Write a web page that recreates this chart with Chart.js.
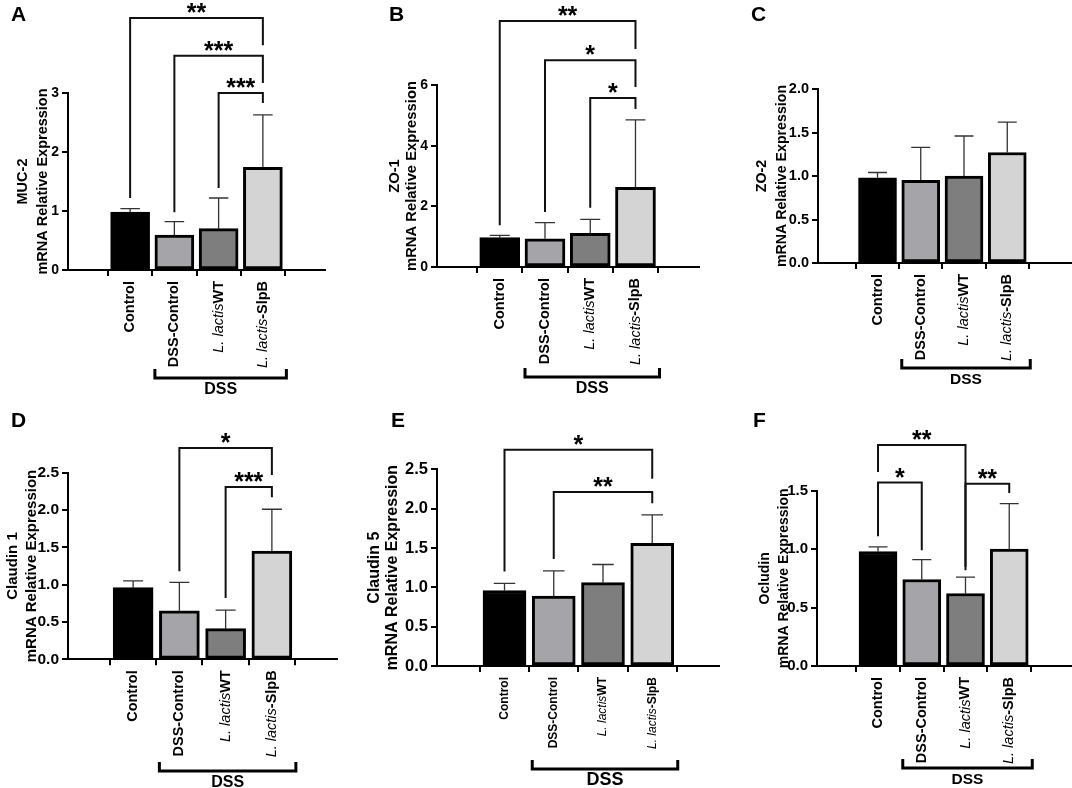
<!DOCTYPE html>
<html>
<head>
<meta charset="utf-8">
<script src="https://cdn.jsdelivr.net/npm/chart.js@4.4.1/dist/chart.umd.min.js"></script>
<style>
  html, body { margin: 0; padding: 0; background: #fff; }
  #wrap { position: relative; width: 1072px; height: 788px; overflow: hidden; }
  #wrap canvas { position: absolute; left: 0; top: 0; }
</style>
</head>
<body>
<div id="wrap">
  <canvas id="pA" width="1072" height="788"></canvas>
  <canvas id="pB" width="1072" height="788"></canvas>
  <canvas id="pC" width="1072" height="788"></canvas>
  <canvas id="pD" width="1072" height="788"></canvas>
  <canvas id="pE" width="1072" height="788"></canvas>
  <canvas id="pF" width="1072" height="788"></canvas>
</div>
<script>
const FONT = "'Liberation Sans', Arial, sans-serif";

const groups = ['Control', 'DSS-Control', 'L. lactisWT', 'L. lactis-SlpB'];
const italicPrefix = 'L. lactis';
const barColors = ['#000000', '#a4a4a9', '#7e7e7e', '#d4d4d4'];

// significance rows: [from, to, bracket height, left leg end, right leg end, stars]
// A - MUC-2
const muc2Mean = [0.98, 0.59, 0.70, 1.74];
const muc2Sd = [0.06, 0.23, 0.52, 0.89];
const muc2Ticks = ['0', '1', '2', '3'];
const muc2Sig = [[0, 3, 4.27, 1.22, 3.81, '**'], [1, 3, 3.63, 0.98, 3.17, '***'], [2, 3, 3.0, 1.39, 2.83, '***']];

// B - ZO-1
const zo1Mean = [0.97, 0.93, 1.11, 2.63];
const zo1Sd = [0.07, 0.53, 0.46, 2.22];
const zo1Ticks = ['0', '2', '4', '6'];
const zo1Sig = [[0, 3, 8.11, 1.38, 7.19, '**'], [1, 3, 6.82, 1.81, 5.93, '*'], [2, 3, 5.57, 1.95, 5.21, '*']];

// C - ZO-2
const zo2Mean = [0.98, 0.95, 1.00, 1.27];
const zo2Sd = [0.06, 0.38, 0.46, 0.35];
const zo2Ticks = ['0.0', '0.5', '1.0', '1.5', '2.0'];
const zo2Sig = [];

// D - Claudin 1
const cld1Mean = [0.96, 0.65, 0.41, 1.45];
const cld1Sd = [0.09, 0.38, 0.25, 0.56];
const cld1Ticks = ['0.0', '0.5', '1.0', '1.5', '2.0', '2.5'];
const cld1Sig = [[1, 3, 2.83, 1.18, 2.47, '*'], [2, 3, 2.31, 0.82, 2.17, '***']];

// E - Claudin 5
const cld5Mean = [0.96, 0.89, 1.06, 1.56];
const cld5Sd = [0.09, 0.32, 0.23, 0.36];
const cld5Ticks = ['0.0', '0.5', '1.0', '1.5', '2.0', '2.5'];
const cld5Sig = [[0, 3, 2.75, 1.20, 2.38, '*'], [1, 3, 2.21, 1.36, 2.07, '**']];

// F - Ocludin
const oclMean = [0.98, 0.74, 0.62, 1.00];
const oclSd = [0.04, 0.17, 0.14, 0.39];
const oclTicks = ['0.0', '0.5', '1.0', '1.5'];
const oclSig = [[0, 2, 1.89, 1.66, 0.85, '**'], [0, 1, 1.57, 1.11, 0.99, '*'], [2, 3, 1.56, 0.82, 1.48, '**']];

const Y_W = 60;
const X_H = 6;

const panels = [
  { id: 'pA', letter: 'A', letterPos: [11, 21], title: ['MUC-2', 'mRNA Relative Expression'], titleX: [23, 43],
    mean: muc2Mean, sd: muc2Sd, ticks: muc2Ticks, sig: muc2Sig,
    area: [68, 93, 325, 270], xMin: -0.678, xMax: 3.678, barW: 39,
    tickFont: 14, labelFont: 14.5, titleFont: 14.5, dssY: 378, dssFont: 16 },
  { id: 'pB', letter: 'B', letterPos: [389, 21], title: ['ZO-1', 'mRNA Relative Expression'], titleX: [395, 412],
    mean: zo1Mean, sd: zo1Sd, ticks: zo1Ticks, sig: zo1Sig,
    area: [437, 85, 699, 267], xMin: -0.663, xMax: 3.68, barW: 40,
    tickFont: 14, labelFont: 14.5, titleFont: 14.8, dssY: 377, dssFont: 16 },
  { id: 'pC', letter: 'C', letterPos: [751, 21], title: ['ZO-2', 'mRNA Relative Expression'], titleX: [762, 782],
    mean: zo2Mean, sd: zo2Sd, ticks: zo2Ticks, sig: zo2Sig,
    area: [818, 89, 1072, 263], xMin: -0.642, xMax: 3.763, barW: 38,
    tickFont: 14.5, labelFont: 14.5, titleFont: 14.2, dssY: 368, dssFont: 15.5 },
  { id: 'pD', letter: 'D', letterPos: [11, 427], title: ['Claudin 1', 'mRNA Relative Expression'], titleX: [13, 32],
    mean: cld1Mean, sd: cld1Sd, ticks: cld1Ticks, sig: cld1Sig,
    area: [68, 472.7, 337, 659.3], xMin: -0.681, xMax: 3.681, barW: 40,
    tickFont: 15.5, labelFont: 14.5, titleFont: 15, dssY: 771, dssFont: 16 },
  { id: 'pE', letter: 'E', letterPos: [391, 427], title: ['Claudin 5', 'mRNA Relative Expression'], titleX: [375, 393],
    mean: cld5Mean, sd: cld5Sd, ticks: cld5Ticks, sig: cld5Sig,
    area: [437, 469.3, 719, 666], xMin: -0.655, xMax: 3.64, barW: 43,
    tickFont: 16.5, labelFont: 12, titleFont: 16, dssY: 769, dssFont: 18 },
  { id: 'pF', letter: 'F', letterPos: [753, 427], title: ['Ocludin', 'mRNA Relative Expression'], titleX: [765, 784],
    mean: oclMean, sd: oclSd, ticks: oclTicks, sig: oclSig,
    area: [817, 490.7, 1071, 666], xMin: -0.669, xMax: 3.686, barW: 38,
    tickFont: 15, labelFont: 14.5, titleFont: 14, dssY: 768, dssFont: 15.5 }
];

// rotated group label, italic species name + bold rest
function drawGroupLabel(ctx, text, x, y, size) {
  const it = text.startsWith(italicPrefix) ? italicPrefix : '';
  const rest = text.slice(it.length);
  ctx.save();
  ctx.translate(x, y);
  ctx.rotate(-Math.PI / 2);
  ctx.textBaseline = 'middle';
  ctx.textAlign = 'left';
  ctx.font = 'bold ' + size + 'px ' + FONT;
  const wRest = ctx.measureText(rest).width;
  ctx.font = 'italic ' + size + 'px ' + FONT;
  const wIt = ctx.measureText(it).width;
  ctx.fillStyle = '#000';
  if (it) ctx.fillText(it, -(wIt + wRest), 0);
  ctx.font = 'bold ' + size + 'px ' + FONT;
  ctx.fillText(rest, -wRest, 0);
  ctx.restore();
}

function decor(p) {
  return {
    id: 'decor' + p.letter,
    beforeDatasetsDraw(chart) {
      const { ctx } = chart;
      const x = chart.scales.x, y = chart.scales.y;
      ctx.save();
      ctx.strokeStyle = '#333';
      ctx.lineWidth = 1.3;
      p.mean.forEach((m, i) => {
        const cx = x.getPixelForValue(i);
        const y0 = y.getPixelForValue(m);
        const y1 = y.getPixelForValue(m + p.sd[i]);
        const hw = p.barW / 4;
        ctx.beginPath();
        ctx.moveTo(cx, y0);
        ctx.lineTo(cx, y1);
        ctx.moveTo(cx - hw, y1);
        ctx.lineTo(cx + hw, y1);
        ctx.stroke();
      });
      ctx.restore();
    },
    afterDraw(chart) {
      const { ctx, chartArea } = chart;
      const x = chart.scales.x, y = chart.scales.y;
      ctx.save();
      ctx.fillStyle = '#000';
      ctx.strokeStyle = '#111';

      // significance brackets
      ctx.lineWidth = 2;
      p.sig.forEach(([a, b, top, endA, endB, label]) => {
        const xa = x.getPixelForValue(a), xb = x.getPixelForValue(b);
        const yt = y.getPixelForValue(top);
        ctx.beginPath();
        ctx.moveTo(xa, y.getPixelForValue(endA));
        ctx.lineTo(xa, yt);
        ctx.lineTo(xb, yt);
        ctx.lineTo(xb, y.getPixelForValue(endB));
        ctx.stroke();
        ctx.font = 'bold 25px ' + FONT;
        ctx.textAlign = 'center';
        ctx.textBaseline = 'alphabetic';
        ctx.fillText(label, (xa + xb) / 2, yt + 3);
      });

      // category labels
      groups.forEach((g, i) => {
        drawGroupLabel(ctx, g, x.getPixelForValue(i), chartArea.bottom + 11, p.labelFont);
      });

      // DSS group bracket
      const x1 = x.getPixelForValue(1) - p.barW / 2;
      const x2 = x.getPixelForValue(3) + p.barW / 2 + 4;
      ctx.lineWidth = 3;
      ctx.strokeStyle = '#000';
      ctx.beginPath();
      ctx.moveTo(x1, p.dssY - 9);
      ctx.lineTo(x1, p.dssY);
      ctx.lineTo(x2, p.dssY);
      ctx.lineTo(x2, p.dssY - 9);
      ctx.stroke();
      ctx.font = 'bold ' + p.dssFont + 'px ' + FONT;
      ctx.textAlign = 'center';
      ctx.textBaseline = 'alphabetic';
      ctx.fillText('DSS', (x1 + x2) / 2, p.dssY + 16);

      // y axis title, two lines
      const cy = (chartArea.top + chartArea.bottom) / 2;
      p.title.forEach((t, k) => {
        ctx.save();
        ctx.translate(p.titleX[k], cy);
        ctx.rotate(-Math.PI / 2);
        ctx.font = 'bold ' + p.titleFont + 'px ' + FONT;
        ctx.textAlign = 'center';
        ctx.textBaseline = 'middle';
        ctx.fillText(t, 0, 0);
        ctx.restore();
      });

      // panel letter
      ctx.font = 'bold 21px ' + FONT;
      ctx.textAlign = 'left';
      ctx.textBaseline = 'alphabetic';
      ctx.fillText(p.letter, p.letterPos[0], p.letterPos[1]);
      ctx.restore();
    }
  };
}

panels.forEach(p => {
  const yMax = parseFloat(p.ticks[p.ticks.length - 1]);
  new Chart(document.getElementById(p.id), {
    type: 'bar',
    data: {
      datasets: [{
        data: p.mean.map((v, i) => ({ x: i, y: v })),
        backgroundColor: barColors,
        borderColor: '#000',
        borderWidth: 3,
        borderSkipped: false,
        barThickness: p.barW
      }]
    },
    options: {
      responsive: false,
      animation: false,
      layout: {
        padding: {
          left: p.area[0] - Y_W,
          top: p.area[1],
          right: 1072 - p.area[2],
          bottom: 788 - p.area[3] - X_H
        }
      },
      plugins: { legend: { display: false }, tooltip: { enabled: false } },
      scales: {
        x: {
          type: 'linear',
          min: p.xMin,
          max: p.xMax,
          afterBuildTicks: s => { s.ticks = groups.map((g, i) => ({ value: i })); },
          afterFit: s => { s.height = X_H; },
          ticks: { display: false },
          grid: { drawOnChartArea: false, tickLength: 6, color: '#000', lineWidth: 2 },
          border: { color: '#000', width: 2 }
        },
        y: {
          min: 0,
          max: yMax,
          afterBuildTicks: s => { s.ticks = p.ticks.map(t => ({ value: parseFloat(t) })); },
          afterFit: s => { s.width = Y_W; },
          ticks: {
            color: '#000',
            padding: 3,
            font: { family: FONT, size: p.tickFont, weight: 'bold' },
            callback: (v, i) => p.ticks[i]
          },
          grid: { drawOnChartArea: false, tickLength: 6, color: '#000', lineWidth: 2 },
          border: { color: '#000', width: 2 }
        }
      }
    },
    plugins: [decor(p)]
  });
});
</script>
</body>
</html>
